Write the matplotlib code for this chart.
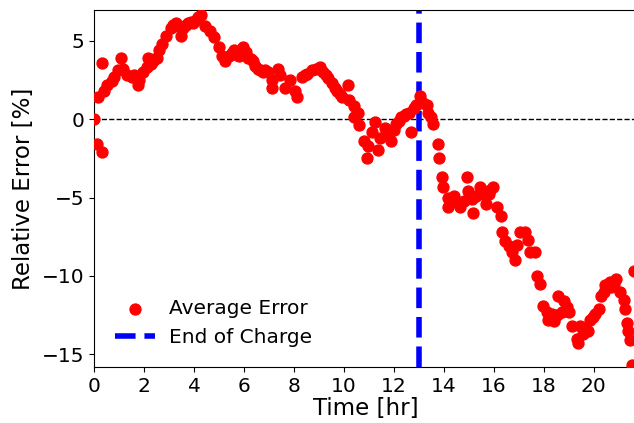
import numpy as np
import matplotlib.pyplot as plt

# time [hr] and average relative error [%]
time_hr = [0.0, 0.1, 0.15, 0.3, 0.3, 0.4, 0.5, 0.7, 0.8, 0.95,
           1.05, 1.15, 1.3, 1.5, 1.6, 1.75, 1.8, 1.95, 2.1, 2.15,
           2.25, 2.35, 2.4, 2.5, 2.6, 2.7, 2.85, 3.05, 3.15, 3.25,
           3.35, 3.45, 3.55, 3.65, 3.75, 3.85, 3.95, 4.05, 4.15, 4.25,
           4.42, 4.62, 4.77, 4.97, 5.12, 5.22, 5.41, 5.51, 5.61, 5.71,
           5.81, 5.96, 6.06, 6.16, 6.26, 6.36, 6.45, 6.55, 6.65, 6.75,
           6.85, 6.95, 7.1, 7.1, 7.34, 7.44, 7.64, 7.84, 8.03, 8.13,
           8.33, 8.43, 8.53, 8.73, 8.88, 9.02, 9.17, 9.27, 9.37, 9.52,
           9.62, 9.72, 9.82, 9.91, 10.16, 10.21, 10.41, 10.41, 10.56, 10.61,
           10.8, 10.9, 10.95, 11.1, 11.25, 11.35, 11.45, 11.65, 11.74, 11.89,
           11.99, 12.09, 12.19, 12.29, 12.39, 12.49, 12.58, 12.68, 12.78, 12.88,
           13.03, 13.18, 13.33, 13.38, 13.48, 13.57, 13.77, 13.82, 13.92, 13.97,
           14.17, 14.17, 14.26, 14.41, 14.51, 14.66, 14.81, 14.91, 14.96, 15.11,
           15.16, 15.3, 15.45, 15.55, 15.7, 15.8, 15.85, 15.95, 16.12, 16.29,
           16.34, 16.44, 16.59, 16.74, 16.84, 16.94, 17.03, 17.23, 17.38, 17.43,
           17.63, 17.73, 17.83, 17.97, 18.12, 18.17, 18.27, 18.32, 18.42, 18.52,
           18.57, 18.72, 18.82, 18.91, 19.01, 19.11, 19.31, 19.36, 19.46, 19.56,
           19.66, 19.75, 19.85, 19.95, 20.05, 20.2, 20.3, 20.4, 20.45, 20.55,
           20.65, 20.7, 20.79, 20.89, 21.04, 21.19, 21.24, 21.34, 21.39, 21.44,
           21.54, 21.63]
avg_error = [0.0, -1.6, 1.4, 3.6, -2.1, 1.8, 2.2, 2.4, 2.7, 3.1,
             3.9, 3.2, 2.8, 2.7, 2.8, 2.2, 2.5, 3.0, 3.3, 3.9,
             3.5, 3.7, 3.8, 3.9, 4.4, 4.8, 5.3, 5.8, 6.0, 6.1,
             5.9, 5.3, 5.8, 6.0, 6.1, 6.2, 6.1, 6.3, 6.5, 6.6,
             5.9, 5.6, 5.2, 4.6, 4.0, 3.7, 4.0, 4.2, 4.4, 4.1,
             4.0, 4.6, 4.3, 3.9, 3.8, 3.7, 3.4, 3.2, 3.1, 3.0,
             3.1, 3.0, 2.5, 2.0, 3.2, 2.8, 2.0, 2.5, 1.8, 1.4,
             2.7, 2.8, 2.9, 3.1, 3.2, 3.3, 3.0, 2.8, 2.6, 2.3,
             2.0, 1.8, 1.6, 1.4, 2.2, 1.2, 0.8, 0.1, 0.4, -0.4,
             -1.4, -2.5, -1.7, -0.8, -0.2, -2.0, -1.2, -0.6, -1.0, -1.4,
             -0.7, -0.3, -0.1, 0.1, 0.2, 0.3, 0.4, -0.8, 0.7, 0.9,
             1.5, 1.0, 0.9, 0.4, 0.1, -0.3, -1.6, -2.5, -3.7, -4.3,
             -5.0, -5.6, -5.3, -4.9, -5.3, -5.6, -5.2, -3.7, -4.6, -5.1,
             -6.0, -4.9, -4.3, -4.8, -5.4, -4.8, -4.5, -4.3, -5.6, -6.2,
             -7.2, -7.8, -8.1, -8.5, -9.0, -8.0, -7.2, -7.2, -7.7, -8.5,
             -8.5, -10.0, -10.5, -11.9, -12.3, -12.8, -12.6, -12.4, -12.9, -12.5,
             -11.3, -12.3, -11.6, -12.0, -12.3, -13.2, -14.0, -14.3, -13.2, -13.7,
             -13.3, -13.5, -12.8, -12.6, -12.4, -12.1, -11.3, -11.0, -10.6, -10.5,
             -10.4, -10.7, -10.5, -10.2, -11.0, -11.5, -12.1, -13.0, -13.5, -14.1,
             -15.7, -9.7]
end_of_charge = 13.0

fig = plt.figure(figsize=(6.34, 4.23), dpi=100)
ax = fig.add_axes([0.1489, 0.1324, 0.8566, 0.844])

ax.scatter(time_hr, avg_error, color="red", s=62, label="Average Error", zorder=3)
ax.axhline(0, color="black", linestyle="--", linewidth=1)
ax.axvline(end_of_charge, color="blue", linestyle="--", linewidth=4, label="End of Charge")

ax.set_xlim(0, 21.75)
ax.set_ylim(-15.8, 6.95)
ax.set_xticks(np.arange(0, 21, 2))
ax.set_yticks([-15, -10, -5, 0, 5])
ax.tick_params(labelsize=14.5)
ax.set_xlabel("Time [hr]", fontsize=16.5, labelpad=1)
ax.set_ylabel("Relative Error [%]", fontsize=16.5, labelpad=5)
ax.legend(loc="lower left", frameon=False, fontsize=14.5, borderaxespad=0.6,
          handlelength=2.0, handletextpad=0.7)

fig.savefig("out.png", dpi=100)
